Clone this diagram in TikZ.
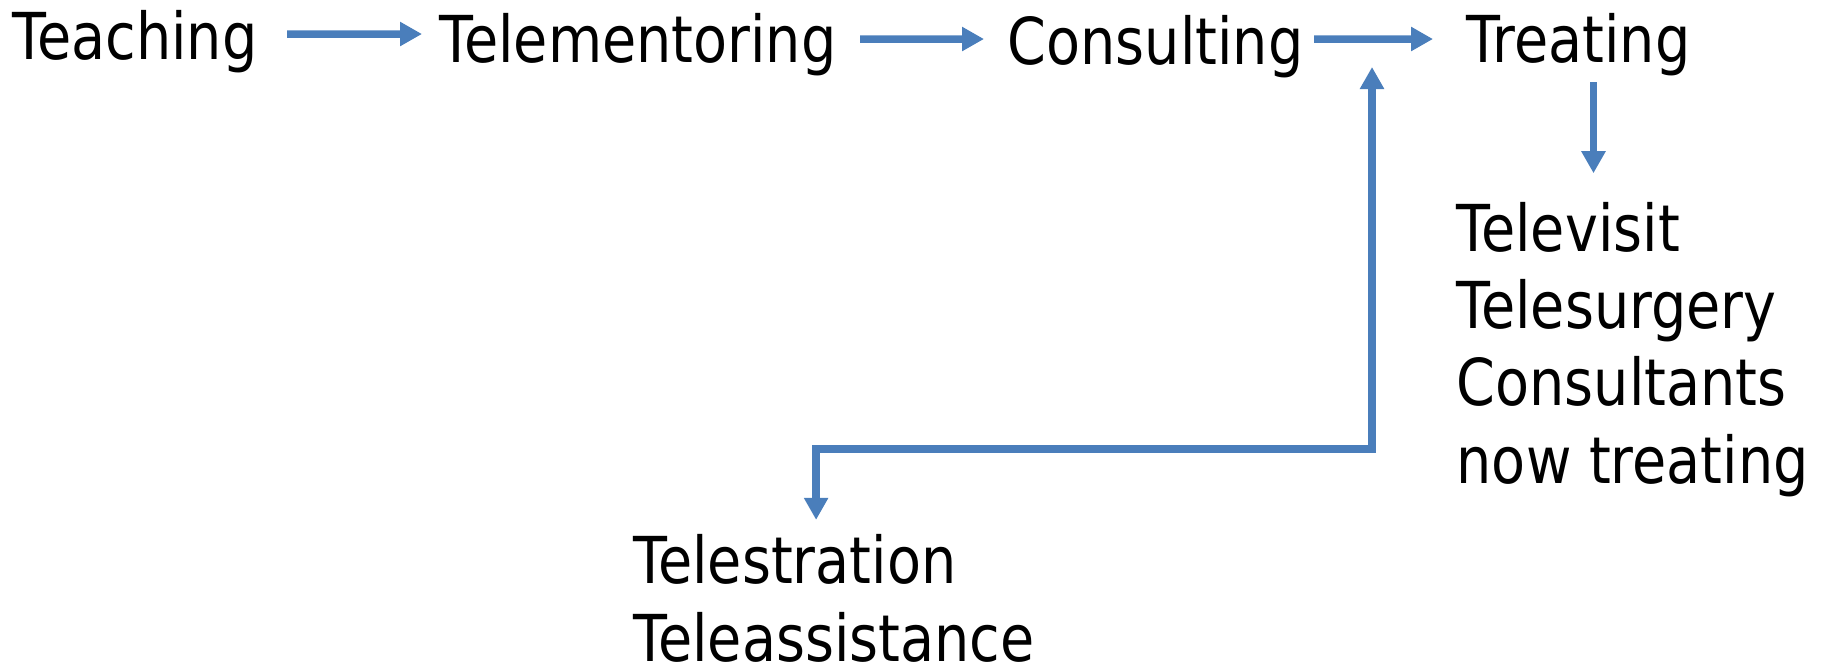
\documentclass[tikz,border=0pt]{standalone}
\usepackage{fontspec}
\setmainfont{DejaVu Sans}[FakeStretch=0.86]
\usepackage{tikz}
\usetikzlibrary{arrows.meta}

\definecolor{linkblue}{RGB}{74,126,187}
\newcommand{\stagefont}{\fontsize{18.4pt}{22pt}\selectfont}

\begin{document}
\begin{tikzpicture}[
    % Stages on the top row
    stage/.style={
        inner sep=0pt,
        anchor=base west,
        font=\stagefont
    },
    % Lists under a stage (placed by their last line)
    detail/.style={
        inner sep=0pt,
        anchor=base west,
        align=left,
        font=\stagefont
    },
    % Arrow
    arrow/.style={
        ->,
        >={Triangle[length=0.22cm,width=0.23cm]},
        draw=linkblue,
        line width=0.075cm
    },
    % Arrow with a tip at both ends
    twoway/.style={
        arrow,
        <->
    }
]

\useasboundingbox (0,0) rectangle (18.25,-6.66);

% Top row
\node[stage] (teach) at (0.12,-0.59) {Teaching};
\node[stage] (telem) at (4.39,-0.62) {Telementoring};
\node[stage] (consult) at (10.07,-0.64) {Consulting};
\node[stage] (treat) at (14.66,-0.62) {Treating};

% Lists
\node[detail] (visits) at (14.56,-4.83) {Televisit\\Telesurgery\\Consultants\\now treating};
\node[detail] (assist) at (6.33,-6.61) {Telestration\\Teleassistance};

% Elbow points
\coordinate (hook) at (13.72,-0.67);
\coordinate (bend) at (13.72,-4.49);

% Top row arrows
\draw[arrow, shorten <=0.29cm, shorten >=0.17cm] ([yshift=0.25cm]teach.base east) -- ([yshift=0.28cm]telem.base west);
\draw[arrow, shorten <=0.23cm, shorten >=0.23cm] ([yshift=0.23cm]telem.base east) -- ([yshift=0.25cm]consult.base west);
\draw[arrow, shorten <=0.10cm, shorten >=0.33cm] ([yshift=0.25cm]consult.base east) -- ([yshift=0.23cm]treat.base west);

% Down to the lists
\draw[arrow, shorten <=0.06cm, shorten >=0.28cm] ([xshift=0.15cm]treat.south) -- ([xshift=0.15cm]treat.south |- visits.north);
\draw[twoway, shorten <=0.14cm] ([xshift=-0.18cm]assist.north) |- (bend) -- (hook);

\end{tikzpicture}
\end{document}
